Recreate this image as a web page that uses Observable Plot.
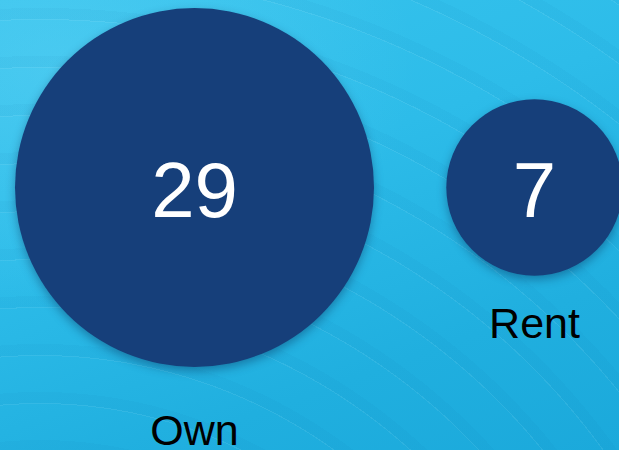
<!DOCTYPE html>
<html>
<head>
<meta charset="utf-8">
<script src="https://cdn.jsdelivr.net/npm/d3@7"></script>
<script src="https://cdn.jsdelivr.net/npm/@observablehq/plot@0.6"></script>
<style>
  html, body { margin: 0; padding: 0; }
  body {
    width: 619px; height: 450px; overflow: hidden;
    background:
      repeating-radial-gradient(circle at 40px 860px,
        rgba(255,255,255,0) 0px, rgba(255,255,255,0) 24px,
        rgba(255,255,255,0.07) 24px, rgba(255,255,255,0.07) 25px,
        rgba(0,90,150,0.04) 25px, rgba(0,90,150,0.04) 36px,
        rgba(255,255,255,0) 36px, rgba(255,255,255,0) 48px),
      radial-gradient(ellipse at 10% 15%, rgba(120,220,250,0.30), rgba(120,220,250,0) 45%),
      linear-gradient(160deg, #38c4ed 0%, #2dbce9 40%, #20afdf 75%, #1ba9db 100%);
  }
  #chart svg { display: block; background: transparent; }
  #chart svg circle { filter: drop-shadow(0px 4px 5px rgba(0, 20, 60, 0.35)); }
</style>
</head>
<body>
<div id="chart"></div>
<script>
const categories = ["Own", "Rent"];
const values = [29, 7];

const data = categories.map((c, i) => ({category: c, value: values[i]}));

const chart = Plot.plot({
  width: 619,
  height: 450,
  marginTop: 0,
  marginRight: 0,
  marginLeft: 0,
  marginBottom: 76,
  style: {background: "transparent", fontFamily: "'Liberation Sans', Arial, Helvetica, sans-serif"},
  x: {type: "point", domain: categories, range: [193.5, 533.5], padding: 0, axis: null},
  y: {type: "sqrt", domain: [7, 29], range: [324, 431], axis: null},
  r: {type: "sqrt", domain: [0, 29], range: [0, 179.5]},
  marks: [
    Plot.dot(data, {x: "category", r: "value", fill: "#163f7a", frameAnchor: "middle"}),
    Plot.text(data, {x: "category", text: d => String(d.value), fill: "white", fontSize: 78, frameAnchor: "middle", dy: 5}),
    Plot.text(data, {x: "category", y: "value", text: "category", fill: "black", fontSize: 43})
  ]
});
document.getElementById("chart").append(chart);
</script>
</body>
</html>
